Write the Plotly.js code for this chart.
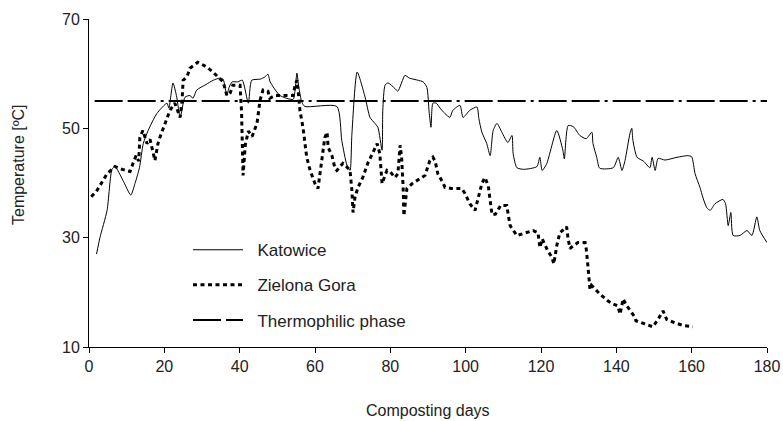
<!DOCTYPE html>
<html>
<head>
<meta charset="utf-8">
<script src="https://cdn.plot.ly/plotly-3.0.1.min.js"></script>
<style>html,body{margin:0;padding:0;background:#fff;}#chart{width:783px;height:421px;}</style>
</head>
<body>
<div id="chart"></div>
<script>
// Katowice (solid line)
var katDays = [2, 2.9, 4.8, 6.1, 6.9, 9, 11.1, 12.2, 13.4, 14.4, 15.7, 18, 20.7, 21.2, 22.3, 23.3, 24.2, 25.5, 26.8, 27.6, 28.6, 31, 33, 34.8, 35.6, 36.6, 37.2, 38, 39.5, 40.7, 42.3, 43.2, 45.5, 46.7, 47.5, 48.1, 50.7, 54.2, 54.7, 55.2, 55.7, 56.5, 57.3, 65.8, 67.1, 68.5, 69.3, 69.8, 71.2, 73.3, 74.6, 75.9, 76.7, 77.8, 78.0, 78.6, 79.4, 81.2, 82, 83.9, 85, 88.7, 89.7, 90.3, 90.8, 91.3, 92.2, 93.2, 94.5, 95.8, 96.6, 98.5, 99.3, 101.1, 103, 103.5, 104.3, 105.6, 106.5, 107.3, 108.3, 109.6, 111.2, 112.3, 112.6, 113.6, 115.4, 118.9, 119.7, 120.3, 121.5, 124.2, 125.8, 126.2, 127.2, 128.6, 130.3, 132, 133.5, 133.8, 134.8, 135.6, 139.2, 140.5, 141.5, 142.3, 143.6, 144.1, 144.4, 145.5, 147.2, 148.9, 149.5, 150.3, 151.1, 152.9, 156.1, 159, 160, 160.9, 162.2, 163, 164, 164.9, 166.2, 168.3, 169, 169.7, 170.4, 171, 172.8, 174.7, 176, 177.3, 178.1, 180];
var katTemp = [27, 30, 35, 42.5, 43, 40.5, 37.8, 39.9, 42.8, 47.2, 49.6, 52.7, 54.6, 53.7, 58.3, 55.7, 52, 55.7, 56, 55.5, 57, 58, 58.8, 59.2, 59, 56, 57.5, 58.5, 58.5, 58.8, 54.6, 58.8, 59, 59.4, 59.9, 58.5, 56, 55.3, 57, 60.1, 57.5, 54.8, 54, 54, 47.8, 43.2, 42.3, 49, 60.3, 55.7, 52, 50.9, 50.2, 46, 53.3, 57.9, 58.3, 57.3, 56.8, 59.7, 59.2, 58.5, 57.5, 53, 50.2, 54.6, 54.6, 53.7, 52.7, 52, 53.3, 54.2, 52, 53.3, 53.9, 51.8, 49.3, 47.2, 45, 49.6, 50.9, 49.3, 47.4, 48.7, 45.4, 42.8, 42.5, 43, 44.7, 42.3, 43.5, 49.6, 46, 44.4, 50.5, 50.3, 48.7, 48.1, 49.3, 47.2, 44.7, 42.7, 42.8, 44.7, 42.3, 44.1, 49, 50, 47.8, 44.7, 44, 42.8, 44.7, 42.3, 44.5, 44.2, 44.7, 45, 44.8, 41.7, 39.2, 37.3, 35.5, 35, 36.2, 37, 36.2, 32.2, 34.6, 30.4, 30.4, 31.3, 30.4, 33.8, 31.3, 29.1];

// Zielona Gora (dotted line)
var zgDays = [0.6, 2, 4.8, 6.1, 6.9, 8.8, 10.9, 11.7, 12.5, 13.2, 13.5, 14.3, 15.4, 16.2, 17.5, 18.3, 18.8, 20.2, 21.5, 22.8, 24.2, 24.7, 25, 26, 26.8, 28.9, 31.3, 32.9, 34.2, 35.6, 36.6, 37.5, 38.2, 40.1, 40.5, 40.9, 41.5, 42.3, 43.3, 44.6, 45.4, 46.2, 47.5, 48, 49.4, 52.6, 54.2, 54.7, 55.2, 55.6, 56, 56.8, 57.3, 57.8, 58.7, 60, 60.8, 61.9, 62.6, 63.2, 63.5, 64.5, 65.3, 65.8, 67.4, 68.5, 69.3, 69.8, 70.1, 70.6, 71.4, 72.7, 74, 75.4, 76.5, 77.2, 77.5, 77.8, 79.1, 80, 81.2, 82, 82.6, 83, 83.4, 83.6, 84.4, 86, 88.4, 89.2, 90.5, 91.3, 91.9, 92.6, 94, 94.5, 96.2, 99, 99.8, 101.1, 102.5, 103.3, 104.3, 105.1, 106, 106.5, 107, 107.9, 109.3, 110.9, 111.2, 111.8, 113.6, 115.7, 117.9, 119.2, 119.7, 120.3, 121.8, 122.9, 123.4, 124.2, 125, 126.4, 126.8, 127.2, 127.7, 128.5, 129.8, 131.7, 132, 132.5, 132.7, 133, 133.4, 134.3, 135.6, 137.8, 139, 140.4, 141, 141.8, 142.8, 144.7, 145.2, 146.8, 148.4, 149.7, 151, 152.4, 153.4, 155.6, 158, 160.3];
var zgTemp = [37.5, 38.5, 41.7, 42.5, 43, 42.5, 42.1, 43.6, 45, 44, 48.3, 49.6, 47.2, 48, 44.1, 47.2, 48.3, 50.9, 53.3, 54.6, 52, 55.1, 58.8, 59.4, 61, 62.1, 61.2, 60.3, 59.4, 58.5, 56, 56.5, 57.9, 57.9, 53, 41.4, 47, 49.5, 48.5, 50.9, 55.1, 57, 56.8, 55.5, 56, 56, 56, 57.9, 58.8, 56.4, 53.3, 50.2, 47.2, 44.7, 42.3, 39.9, 39, 44.7, 48.3, 49.3, 46.5, 45, 42.7, 42.3, 43.6, 42.9, 42.3, 38.6, 34.6, 37.3, 39.2, 41, 43.6, 45.6, 47.2, 45.4, 41.7, 39.9, 42.3, 42, 41, 41.7, 46.9, 44.7, 39.2, 34, 39, 40, 41, 41.4, 44.1, 44.7, 44, 41.7, 40, 39.2, 39, 39, 38.1, 36.2, 35, 37, 39.9, 41, 39.5, 36.8, 34.2, 34.3, 35.9, 35.9, 34.4, 32.2, 30.4, 30.9, 31.3, 30.9, 28.2, 29.8, 27.6, 26.4, 25.2, 28.6, 30.9, 31.7, 32, 29.8, 28, 28.5, 29.1, 29.1, 28, 24.5, 22.1, 20.6, 21.3, 20.6, 19.7, 18.4, 17.9, 17.5, 16, 18.8, 17.5, 15.7, 14.8, 14.4, 14, 13.7, 15, 16.6, 15, 14.4, 13.9, 13.7];

// Thermophilic phase threshold
var thermoDays = [1.5, 180];
var thermoTemp = [55, 55];

var seriesNames = ["Katowice", "Zielona Gora", "Thermophilic phase"];
var xTicks = [0, 20, 40, 60, 80, 100, 120, 140, 160, 180];
var yTicks = [10, 30, 50, 70];

var font = "Arial, 'Liberation Sans', sans-serif";
var txt = "#222";
var pad = "\u00a0\u00a0";

var traces = [
  {x: katDays, y: katTemp, name: pad + seriesNames[0], mode: "lines", legendgroup: "a",
   line: {color: "#000", width: 1, shape: "spline", smoothing: 0.6}},
  {x: zgDays, y: zgTemp, name: pad + seriesNames[1], mode: "lines", legendgroup: "b",
   line: {color: "#000", width: 3, dash: "4px,3.5px"}},
  {x: thermoDays, y: thermoTemp, name: pad + seriesNames[2], mode: "lines", legendgroup: "c",
   line: {color: "#000", width: 2, dash: "28px,5px,28px,5px,3px,5px"}}
];

var layout = {
  width: 783, height: 421,
  margin: {l: 89, r: 16, t: 19, b: 74},
  paper_bgcolor: "#fff", plot_bgcolor: "#fff",
  showlegend: true,
  legend: {x: 0.146, y: 0.35, xanchor: "left", yanchor: "top",
           traceorder: "grouped", tracegroupgap: 10, itemwidth: 50,
           bgcolor: "rgba(0,0,0,0)", font: {family: font, size: 17, color: txt}},
  xaxis: {range: [0, 180], tickvals: xTicks, ticks: "outside", ticklen: 5, tickcolor: "#000",
          showline: true, linecolor: "#000", linewidth: 1, showgrid: false, zeroline: false,
          tickfont: {family: font, size: 16, color: txt}},
  yaxis: {range: [10, 70], tickvals: yTicks, ticks: "outside", ticklen: 5, tickcolor: "#000",
          showline: true, linecolor: "#000", linewidth: 1, showgrid: false, zeroline: false,
          tickfont: {family: font, size: 16, color: txt}},
  annotations: [
    {text: "Composting days", xref: "paper", yref: "paper", x: (428 - 89) / 678, y: (347 - 410) / 328,
     xanchor: "center", yanchor: "middle", showarrow: false, font: {family: font, size: 16, color: txt}},
    {text: "Temperature [ºC]", xref: "paper", yref: "paper", x: (19 - 89) / 678, y: (347 - 165) / 328,
     xanchor: "center", yanchor: "middle", textangle: -90, showarrow: false, font: {family: font, size: 16, color: txt}}
  ]
};

Plotly.newPlot("chart", traces, layout, {staticPlot: true, displayModeBar: false});
</script>
</body>
</html>
